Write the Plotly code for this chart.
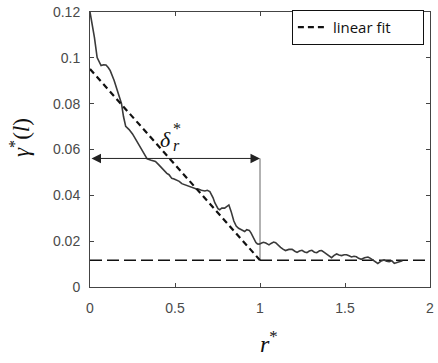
import plotly.graph_objects as go

# ---- data ----
r_star = [0, 0.01, 0.026, 0.042, 0.065, 0.08, 0.094, 0.107, 0.119, 0.142, 0.168, 0.185, 0.197, 0.21,
          0.23, 0.25, 0.269, 0.29, 0.307, 0.322, 0.336, 0.36, 0.385, 0.405, 0.423, 0.44, 0.452, 0.465,
          0.481, 0.495, 0.51, 0.525, 0.54, 0.555, 0.569, 0.59, 0.608, 0.622, 0.637, 0.655, 0.676, 0.69,
          0.705, 0.715, 0.724, 0.734, 0.743, 0.753, 0.763, 0.775, 0.792, 0.805, 0.817, 0.83, 0.846, 0.86,
          0.874, 0.888, 0.9, 0.91, 0.922, 0.937, 0.947, 0.956, 0.966, 0.976, 0.985, 0.995, 1.01, 1.02,
          1.034, 1.045, 1.053, 1.065, 1.08, 1.092, 1.105, 1.121, 1.135, 1.15, 1.17, 1.189, 1.205, 1.218,
          1.232, 1.247, 1.262, 1.276, 1.29, 1.305, 1.32, 1.334, 1.35, 1.363, 1.378, 1.392, 1.405, 1.421,
          1.436, 1.451, 1.465, 1.48, 1.495, 1.509, 1.524, 1.538, 1.553, 1.567, 1.58, 1.596, 1.615, 1.635,
          1.65, 1.664, 1.68, 1.693, 1.712, 1.73, 1.745, 1.76, 1.775, 1.79, 1.81, 1.825, 1.838]
gamma_star = [0.1200, 0.1160, 0.1089, 0.1001, 0.0966, 0.0970, 0.0969, 0.0958, 0.0944, 0.0901, 0.0844,
              0.0801, 0.0744, 0.0701, 0.0687, 0.0668, 0.0644, 0.0618, 0.0594, 0.0575, 0.0559, 0.0553,
              0.0548, 0.0533, 0.0518, 0.0508, 0.0496, 0.0490, 0.0474, 0.0471, 0.0465, 0.0461, 0.0451,
              0.0447, 0.0441, 0.0437, 0.0433, 0.0429, 0.0428, 0.0422, 0.0419, 0.0422, 0.0416, 0.0403,
              0.0389, 0.0368, 0.0352, 0.0342, 0.0337, 0.0344, 0.0344, 0.0352, 0.0358, 0.0330, 0.0288,
              0.0266, 0.0256, 0.0251, 0.0246, 0.0242, 0.0250, 0.0247, 0.0236, 0.0223, 0.0207, 0.0194,
              0.0188, 0.0187, 0.0192, 0.0195, 0.0192, 0.0186, 0.0184, 0.0190, 0.0196, 0.0193, 0.0183,
              0.0173, 0.0165, 0.0159, 0.0164, 0.0164, 0.0156, 0.0151, 0.0157, 0.0160, 0.0153, 0.0150,
              0.0157, 0.0160, 0.0152, 0.0150, 0.0158, 0.0159, 0.0151, 0.0144, 0.0135, 0.0128, 0.0138,
              0.0144, 0.0140, 0.0137, 0.0141, 0.0141, 0.0136, 0.0131, 0.0134, 0.0132, 0.0125, 0.0121,
              0.0128, 0.0131, 0.0125, 0.0119, 0.0111, 0.0103, 0.0113, 0.0118, 0.0112, 0.0110, 0.0115,
              0.0103, 0.0108, 0.0112, 0.0115]

fit_intercept = 0.0951   # linear fit value at r* = 0
plateau = 0.0117         # asymptotic level
delta_r = 1.0            # r* where the fit meets the plateau
arrow_level = 0.0561     # height of the delta_r* arrow

x_ticks = [0, 0.5, 1, 1.5, 2]
x_tick_labels = ["0", "0.5", "1", "1.5", "2"]
y_ticks = [0, 0.02, 0.04, 0.06, 0.08, 0.1, 0.12]
y_tick_labels = ["0", "0.02", "0.04", "0.06", "0.08", "0.1", "0.12"]
x_range = [0, 2]
y_range = [0, 0.12]

fig = go.Figure()

# plateau line
fig.add_trace(go.Scatter(x=x_range, y=[plateau, plateau], mode="lines",
                         line=dict(color="#111111", width=1.5, dash="12px,5px"),
                         showlegend=False, hoverinfo="skip"))
# vertical marker at delta_r
fig.add_trace(go.Scatter(x=[delta_r, delta_r], y=[plateau, arrow_level], mode="lines",
                         line=dict(color="#666666", width=1), showlegend=False, hoverinfo="skip"))
# data curve
fig.add_trace(go.Scatter(x=r_star, y=gamma_star, mode="lines",
                         line=dict(color="#3a3a3a", width=1.6), showlegend=False))
# linear fit
fig.add_trace(go.Scatter(x=[0, delta_r], y=[fit_intercept, plateau], mode="lines",
                         name="linear fit",
                         line=dict(color="#111111", width=2.2, dash="6px,4px")))

serif = "Liberation Serif"
annotations = [
    # double arrow
    dict(x=delta_r, y=arrow_level, ax=0, ay=arrow_level, xref="x", yref="y", axref="x", ayref="y",
         text="", showarrow=True, arrowhead=2, arrowside="end+start", arrowsize=1.9, arrowwidth=1,
         arrowcolor="#222222", startstandoff=0, standoff=0),
    # delta label
    dict(x=0.445, y=0.0645, xref="x", yref="y", text="<i>δ</i>", showarrow=False,
         font=dict(family=serif, size=22, color="#111111"), xanchor="center", yanchor="middle"),
    dict(x=0.51, y=0.0617, xref="x", yref="y", text="<i>r</i>", showarrow=False,
         font=dict(family=serif, size=16, color="#111111"), xanchor="center", yanchor="middle"),
    dict(x=0.51, y=0.0690, xref="x", yref="y", text="*", showarrow=False,
         font=dict(family=serif, size=16, color="#111111"), xanchor="center", yanchor="middle"),
    # axis titles
    dict(x=-0.205, y=0.543, xref="paper", yref="paper", text="<i>γ</i><sup>*</sup>(<i>l</i>)",
         showarrow=False, textangle=-90, font=dict(family=serif, size=23, color="#111111"),
         xanchor="center", yanchor="middle"),
    dict(x=0.525, y=-0.2, xref="paper", yref="paper", text="<i>r</i><sup>*</sup>",
         showarrow=False, font=dict(family=serif, size=24, color="#111111"),
         xanchor="center", yanchor="middle"),
]

axis_common = dict(showline=True, linecolor="#444444", linewidth=1, mirror="ticks",
                   ticks="inside", ticklen=4, tickcolor="#444444", showgrid=False, zeroline=False,
                   ticklabeloverflow="allow",
                   tickfont=dict(family="Liberation Sans", size=14, color="#4a4a4a"))

fig.update_layout(
    width=438, height=363,
    margin=dict(l=90, r=4, t=7, b=76),
    paper_bgcolor="white", plot_bgcolor="white",
    xaxis=dict(range=x_range, tickvals=x_ticks, ticktext=x_tick_labels,
               ticklabelstandoff=8, **axis_common),
    yaxis=dict(range=y_range, tickvals=y_ticks, ticktext=y_tick_labels,
               ticklabelstandoff=6, **axis_common),
    legend=dict(orientation="h", x=0.982, y=1.008, xanchor="right", yanchor="top", bgcolor="white",
                bordercolor="#111111", borderwidth=1, entrywidth=85, entrywidthmode="pixels",
                font=dict(family="Open Sans", size=15, color="#111111")),
    annotations=annotations,
    showlegend=True,
)

fig.write_html("out.html")
